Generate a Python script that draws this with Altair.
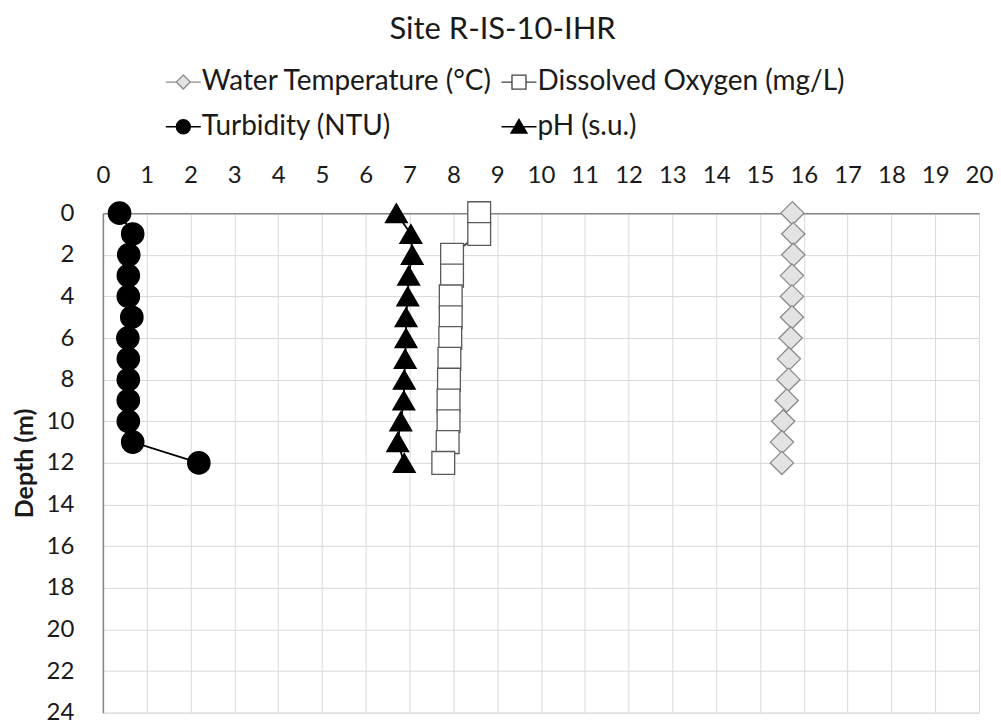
import altair as alt
import pandas as pd

# ---- data ----
depth = [0, 1, 2, 3, 4, 5, 6, 7, 8, 9, 10, 11, 12]
temperature = [15.74, 15.76, 15.76, 15.73, 15.73, 15.73, 15.70, 15.66, 15.65, 15.61, 15.53, 15.50, 15.50]
dissolved_oxygen = [8.59, 8.59, 7.97, 7.97, 7.94, 7.94, 7.93, 7.91, 7.90, 7.89, 7.89, 7.87, 7.77]
turbidity = [0.38, 0.68, 0.59, 0.58, 0.58, 0.66, 0.57, 0.58, 0.58, 0.58, 0.58, 0.68, 2.19]
ph = [6.70, 7.03, 7.06, 6.98, 6.96, 6.92, 6.92, 6.90, 6.88, 6.87, 6.80, 6.73, 6.88]

series_names = ["Water Temperature (°C)", "Dissolved Oxygen (mg/L)", "Turbidity (NTU)", "pH (s.u.)"]
x_ticks = list(range(0, 21))
y_ticks = list(range(0, 25, 2))

# ---- styles ----
FONT = "Lato"
TEXT = "#1a1a1a"
marker_shapes = ["diamond", "square", "circle", "triangle-up"]
marker_sizes = [540, 480, 420, 500]
marker_fill = ["#e3e3e3", "#ffffff", "#000000", "#000000"]
marker_stroke = ["#8a8a8a", "#595959", "#000000", "#000000"]
line_colors = ["#8a8a8a", "#404040", "#000000", "#000000"]
legend_paths = [
    "M-1,0H-0.4M0.4,0H1M0,-0.4L0.4,0L0,0.4L-0.4,0Z",
    "M-1,0H-0.4M0.4,0H1M-0.4,-0.4H0.4V0.4H-0.4Z",
    "M-1,0H1M-0.4,0A0.4,0.4,0,1,1,0.4,0A0.4,0.4,0,1,1,-0.4,0Z",
    "M-1,0H1M0,-0.42L0.46,0.36H-0.46Z",
]

rows = []
for name, vals in zip(series_names, [temperature, dissolved_oxygen, turbidity, ph]):
    for d, v in zip(depth, vals):
        rows.append({"series": name, "key": name, "depth": d, "value": v})
df = pd.DataFrame(rows)

x_enc = alt.X(
    "value:Q",
    scale=alt.Scale(domain=[0, 20], nice=False, zero=False),
    axis=alt.Axis(
        orient="top", values=x_ticks, title=None, format="d",
        ticks=False, tickSize=0, labelPadding=26, labelFontSize=24,
        labelFont=FONT, labelColor=TEXT, labelFlush=False, labelOverlap=False,
        domainColor="#868686", domainWidth=1.5,
        gridColor="#d9d9d9", gridWidth=1,
    ),
)
y_enc = alt.Y(
    "depth:Q",
    scale=alt.Scale(domain=[0, 24], reverse=True, nice=False, zero=False),
    axis=alt.Axis(
        values=y_ticks, title="Depth (m)", format="d",
        ticks=False, tickSize=0, labelPadding=29, labelFontSize=24,
        labelFont=FONT, labelColor=TEXT, labelFlush=False, labelOverlap=False,
        titleFont=FONT, titleFontSize=25, titleFontWeight="bold",
        titleColor=TEXT, titlePadding=9,
        domainColor="#868686", domainWidth=1.5,
        gridColor="#d9d9d9", gridWidth=1,
    ),
)

base = alt.Chart(df)

lines = base.mark_line(strokeWidth=1.8).encode(
    x=x_enc,
    y=y_enc,
    order=alt.Order("depth:Q"),
    detail="series:N",
    color=alt.Color("series:N", scale=alt.Scale(domain=series_names, range=line_colors), legend=None),
)

points = base.mark_point(opacity=1, strokeWidth=1.3).encode(
    x=alt.X("value:Q"),
    y=alt.Y("depth:Q"),
    shape=alt.Shape("series:N", scale=alt.Scale(domain=series_names, range=marker_shapes), legend=None),
    size=alt.Size("series:N", scale=alt.Scale(domain=series_names, range=marker_sizes), legend=None),
    fill=alt.Fill("series:N", scale=alt.Scale(domain=series_names, range=marker_fill), legend=None),
    stroke=alt.Stroke("series:N", scale=alt.Scale(domain=series_names, range=marker_stroke), legend=None),
)

legend_common = dict(
    title=None, orient="none", legendX=62, legendY=-150, columns=2, direction="horizontal",
    labelFont=FONT, labelFontSize=28, labelColor=TEXT, labelLimit=600,
    symbolSize=1225, symbolStrokeWidth=1.3, symbolOpacity=1,
    labelOffset=0, columnPadding=6, rowPadding=12,
)

legend_layer = base.mark_point(opacity=0, size=10).encode(
    x=alt.X("value:Q"),
    y=alt.Y("depth:Q"),
    shape=alt.Shape("key:N", scale=alt.Scale(domain=series_names, range=legend_paths),
                    legend=alt.Legend(**legend_common)),
    fill=alt.Fill("key:N", scale=alt.Scale(domain=series_names, range=marker_fill),
                  legend=alt.Legend(**legend_common)),
    stroke=alt.Stroke("key:N", scale=alt.Scale(domain=series_names, range=line_colors),
                      legend=alt.Legend(**legend_common)),
)

chart = (
    alt.layer(lines, points, legend_layer)
    .resolve_scale(shape="independent", fill="independent", stroke="independent",
                   color="independent", size="independent")
    .properties(
        width=877,
        height=500,
        title=alt.TitleParams(
            "Site R-IS-10-IHR", font=FONT, fontSize=31, fontWeight="normal",
            color=TEXT, anchor="middle", frame="bounds", offset=17,
        ),
        autosize=alt.AutoSizeParams(type="none"),
        padding={"left": 95, "top": 205, "right": 14, "bottom": 12},
    )
    .configure_view(stroke=None)
    .configure(background="white")
)

chart.save("out.html", embed_options={"renderer": "svg", "actions": False})
